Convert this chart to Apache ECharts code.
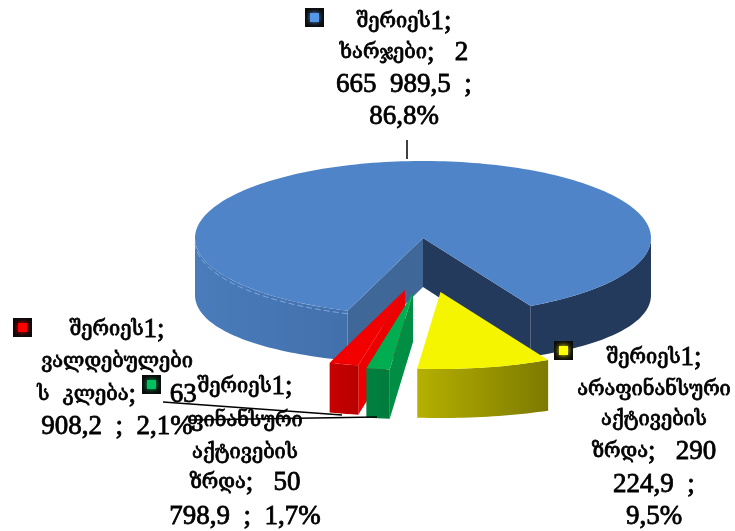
<!DOCTYPE html>
<html lang="ka">
<head>
    <meta charset="UTF-8">
    <title>შერიეს1</title>
    <script src="https://cdn.jsdelivr.net/npm/echarts@6/dist/echarts.min.js"></script>
    <style>
        html, body { margin: 0; padding: 0; background: #fff; }
        #chart { width: 735px; height: 531px; }
    </style>
</head>
<body>
<div id="chart"></div>
<script>
    const seriesName = 'შერიეს1';
    const categories = ['ხარჯები', 'არაფინანსური აქტივების ზრდა', 'ფინანსური აქტივების ზრდა', 'ვალდებულების კლება'];
    const values = [2665989.5, 290224.9, 50798.9, 63908.2];
    const percents = ['86,8%', '9,5%', '1,7%', '2,1%'];

    // label text, broken the same way as the reference
    const labelLines = [
        ['შერიეს1;', 'ხარჯები;   2', '665  989,5  ;', '86,8%'],
        ['შერიეს1;', 'არაფინანსური', 'აქტივების', 'ზრდა;   290', '224,9  ;', '9,5%'],
        ['შერიეს1;', 'ფინანსური', 'აქტივების', 'ზრდა;   50', '798,9  ;  1,7%'],
        ['შერიეს1;', 'ვალდებულები', 'ს  კლება;     63', '908,2  ;  2,1%']
    ];

    // pie geometry
    const cx = 423, cy = 238, rx = 228, ry = 77, depth = 49, sideDepth = 8;
    const startAngle = 199.3;
    const explode = [[0, 0], [17.5, 54], [-10, 55], [-18, 52]];
    const drawOrder = [0, 3, 2, 1];

    const styles = [
        {top: '#4f84c8', sideL: '#4a7cbb', sideR: '#4270ab', startFace: '#3f6899', endFace: '#243a5c', rimR: '#243a5c', key: '#5596e6'},
        {top: '#f5f500', sideL: '#b5b000', sideR: '#7d7a00', startFace: '#8f8c00', endFace: '#8f8c00', rimR: '#7d7a00', key: '#ffff00'},
        {top: '#00ad50', sideL: '#008040', sideR: '#007c3c', startFace: '#008e44', endFace: '#008e44', rimR: '#007c3c', key: '#00c060'},
        {top: '#f20000', sideL: '#c80000', sideR: '#b80000', startFace: '#ec0000', endFace: '#d80000', rimR: '#b80000', key: '#ff0000'}
    ];
    const labelPos = [
        {x: 404, ys: [22, 53, 85, 117]},
        {x: 654, ys: [358, 390, 420, 452, 485, 517]},
        {x: 245, ys: [387, 421, 453, 483, 517]},
        {x: 117, ys: [330, 362, 395, 427]}
    ];
    const keyPos = [[305, 8], [554, 341], [142, 375], [13, 318]];
    const leaders = [
        [[407, 140], [407, 159]],
        [[163, 402], [342, 415]],
        [[190, 420], [377, 417]]
    ];
    const georgianFont = '"DejaVu Serif", serif';
    const digitFont = '"Liberation Serif", serif';

    const total = values.reduce((a, b) => a + b, 0);

    function wallDepth(a) {
        const s = Math.sin(a * Math.PI / 180);
        return depth + sideDepth * s * s;
    }

    function rim(a, ox, oy, dz) {
        const t = a * Math.PI / 180;
        return [cx + ox + rx * Math.sin(t), cy + oy - ry * Math.cos(t) + dz];
    }

    function arc(a0, a1, ox, oy, low) {
        const pts = [];
        const n = Math.max(2, Math.ceil(Math.abs(a1 - a0) / 1.5));
        for (let i = 0; i <= n; i++) {
            const a = a0 + (a1 - a0) * i / n;
            pts.push(rim(a, ox, oy, low ? wallDepth(a) : 0));
        }
        return pts;
    }

    function hGradient(c0, c1) {
        return new echarts.graphic.LinearGradient(0, 0, 1, 0, [
            {offset: 0, color: c0}, {offset: 1, color: c1}
        ]);
    }

    // outer wall between two angles
    function wall(a0, a1, ox, oy, fill) {
        const top = arc(a0, a1, ox, oy, false);
        const bottom = arc(a1, a0, ox, oy, true);
        return {type: 'polygon', shape: {points: top.concat(bottom)}, style: {fill: fill}};
    }

    function face(a, ox, oy, fill) {
        const r = rim(a, ox, oy, 0);
        const r2 = rim(a, ox, oy, wallDepth(a));
        return {
            type: 'polygon',
            shape: {points: [[cx + ox, cy + oy], r, r2, [cx + ox, cy + oy + depth]]},
            style: {fill: fill}
        };
    }

    function renderSlice(params, api) {
        const i = params.dataIndex;
        const st = styles[i];
        const [ox, oy] = explode[i];
        let before = 0;
        for (let k = 0; k < i; k++) before += values[k];
        const a0 = startAngle + before / total * 360;
        const a1 = a0 + api.value(0) / total * 360;
        const norm = a => ((a % 360) + 360) % 360;
        const children = [];

        if (norm(a0) > 180) children.push(face(a0, ox, oy, st.startFace));
        if (norm(a1) < 180) children.push(face(a1, ox, oy, st.endFace));

        if (i === 0) {
            // the big slice wraps over the top, its wall shows on both sides of the gap
            children.push(wall(a0, 270, ox, oy, hGradient(st.sideL, st.sideR)));
            children.push(wall(360 + 90, a1, ox, oy, st.rimR));
        } else {
            children.push(wall(a0, a1, ox, oy, hGradient(st.sideL, st.sideR)));
        }

        children.push({
            type: 'polygon',
            shape: {points: [[cx + ox, cy + oy]].concat(arc(a0, a1, ox, oy, false))},
            style: {fill: st.top}
        });
        if (i === 0) {
            // thin bevel highlight along the front left edge
            children.push({
                type: 'polyline',
                shape: {points: arc(a0, 268, ox, oy + 3, false)},
                style: {fill: null, stroke: '#7fa9e0', lineWidth: 1, lineDash: [6, 3]}
            });
        }
        children.forEach(c => { c.z2 = drawOrder.indexOf(i) * 10; });
        return {type: 'group', children: children};
    }

    // Georgian runs and digit runs have different sizes in the reference
    function toRich(line) {
        return line.replace(/[\u10A0-\u10FF]+|[^\u10A0-\u10FF]+/g, run =>
            (/[\u10A0-\u10FF]/.test(run) ? '{g|' : '{d|') + run + '}');
    }

    const graphics = [];
    leaders.forEach(l => {
        graphics.push({
            type: 'line',
            shape: {x1: l[0][0], y1: l[0][1], x2: l[1][0], y2: l[1][1]},
            style: {stroke: '#000', lineWidth: 1.5},
            z: 5
        });
    });
    keyPos.forEach((p, i) => {
        graphics.push({
            type: 'rect',
            shape: {x: p[0], y: p[1], width: 19, height: 19},
            style: {fill: '#0a0a0a'},
            z: 6
        });
        graphics.push({
            type: 'rect',
            shape: {x: p[0] + 5, y: p[1] + 5, width: 9, height: 9},
            style: {fill: styles[i].key, shadowBlur: 5, shadowColor: styles[i].key},
            z: 6
        });
    });
    labelLines.forEach((lines, i) => {
        lines.forEach((line, j) => {
            graphics.push({
                type: 'text',
                style: {
                    x: labelPos[i].x,
                    y: labelPos[i].ys[j],
                    text: toRich(line),
                    align: 'center',
                    verticalAlign: 'middle',
                    rich: {
                        g: {fontFamily: georgianFont, fontSize: 20, fill: '#000', stroke: '#000', lineWidth: 0.8},
                        d: {fontFamily: digitFont, fontSize: 27, fill: '#000', stroke: '#000', lineWidth: 0.8}
                    }
                },
                z: 7
            });
        });
    });

    const chart = echarts.init(document.getElementById('chart'), null, {renderer: 'canvas'});
    chart.setOption({
        animation: false,
        backgroundColor: '#fff',
        tooltip: {show: false},
        graphic: graphics,
        series: [{
            type: 'custom',
            name: seriesName,
            coordinateSystem: 'none',
            renderItem: renderSlice,
            data: values.map((v, i) => ({name: categories[i], value: [v, percents[i]]}))
        }]
    });
</script>
</body>
</html>
